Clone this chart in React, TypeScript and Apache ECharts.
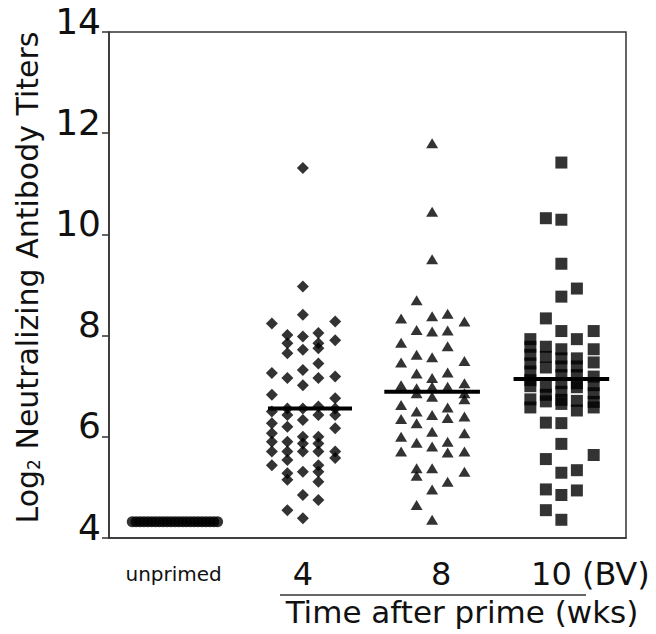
import React, { useEffect, useRef } from "react";
import * as echarts from "echarts";

// Categories and tick labels
const categories = ["unprimed", "4", "8", "10 (BV)"];
const yTicks = { min: 4, max: 14, step: 2 };

// Horizontal offsets of the five point columns inside a group (in category units)
const columnOffsets = [-0.24, -0.12, 0, 0.12, 0.25];

// Unprimed group: all at the detection floor
const unprimedValue = 4.32;
const unprimedOffsets = [
  -0.32, -0.29, -0.26, -0.23, -0.2, -0.17, -0.14, -0.11, -0.08, -0.05, -0.02, 0.01,
  0.04, 0.07, 0.1, 0.13, 0.16, 0.19, 0.22, 0.25, 0.28, 0.31, 0.34,
];

// 4 weeks (diamonds), per column
const wk4Columns = [
  [8.24, 7.26, 6.83, 6.5, 6.27, 6.07, 5.9, 5.71, 5.44],
  [8.01, 7.85, 7.65, 7.16, 6.56, 6.43, 6.2, 5.9, 5.71, 5.54, 5.28, 5.15, 4.55],
  [11.31, 8.97, 8.41, 7.98, 7.72, 7.32, 7.02, 6.56, 6.33, 6.0, 5.87, 5.71, 5.31, 4.85, 4.39],
  [8.05, 7.85, 7.75, 7.45, 7.16, 6.6, 6.43, 6.0, 5.87, 5.71, 5.44, 5.31, 5.11, 4.75],
  [8.28, 7.91, 7.19, 6.76, 6.56, 6.43, 6.17, 5.71, 5.58],
];

// 8 weeks (triangles), per column
const wk8Columns = [
  [8.34, 7.86, 7.47, 7.02, 6.63, 6.35, 6.0, 5.71],
  [8.7, 8.11, 7.62, 7.25, 6.96, 6.86, 6.5, 6.27, 5.88, 5.38, 5.23, 4.65],
  [11.8, 10.45, 9.51, 8.38, 8.08, 7.57, 7.16, 6.99, 6.79, 6.43, 6.1, 5.81, 5.38, 4.96, 4.36],
  [8.43, 8.1, 7.79, 7.27, 6.99, 6.58, 6.37, 5.9, 5.69, 5.11],
  [8.28, 7.5, 7.06, 6.86, 6.74, 6.4, 6.07, 5.71, 5.31],
];

// 10 weeks BV (squares), per column
const wk10Columns = [
  [7.93, 7.78, 7.62, 7.45, 7.29, 7.12, 7.0, 6.74, 6.58],
  [10.32, 8.34, 7.78, 7.58, 7.37, 6.99, 6.83, 6.7, 6.28, 5.56, 4.96, 4.55],
  [11.42, 10.29, 9.42, 8.77, 8.09, 7.73, 7.55, 7.39, 7.22, 7.06, 6.89, 6.73, 6.65, 6.27, 5.86, 5.29, 4.85, 4.36],
  [8.93, 7.93, 7.55, 7.39, 7.22, 7.06, 6.98, 6.71, 6.52, 5.34, 4.94],
  [8.09, 7.73, 7.47, 7.19, 7.02, 6.86, 6.69, 6.58, 5.64],
];

// Group means and the horizontal extent of each mean bar
const groupMeans = [6.56, 6.89, 7.14];
const meanSpans = [
  [-0.27, 0.38],
  [-0.37, 0.37],
  [-0.37, 0.37],
];

const yTitle = "{a|Log}{s|2}{a| Neutralizing Antibody Titers}";
const xTitle = "Time after prime (wks)";

function groupData(cols: number[][], catIndex: number) {
  const out: number[][] = [];
  cols.forEach((col, ci) => {
    col.forEach((v) => out.push([catIndex + columnOffsets[ci], v]));
  });
  return out;
}

export default function App() {
  const ref = useRef<HTMLDivElement>(null);
  useEffect(() => {
    if (!ref.current) return;
    const chart = echarts.init(ref.current, null, { renderer: "svg" });
    const font = "DejaVu Sans";
    const labelKeys = ["u", "d", "d8", "d10"];
    const meanSeries = groupMeans.map((m, i) => ({
      type: "line",
      xAxisIndex: 1,
      symbol: "none",
      z: 5,
      lineStyle: { color: "#000", width: 4 },
      data: [
        [i + 1 + meanSpans[i][0], m],
        [i + 1 + meanSpans[i][1], m],
      ],
    }));
    chart.setOption({
      animation: false,
      backgroundColor: "#fff",
      textStyle: { fontFamily: font },
      grid: {
        left: 109,
        right: 30,
        top: 32,
        bottom: 96,
        show: true,
        borderColor: "#333",
        borderWidth: 1.5,
      },
      xAxis: [
        {
          type: "category",
          data: categories,
          boundaryGap: true,
          axisLine: { show: true, onZero: false, lineStyle: { color: "#333", width: 1.5 } },
          axisTick: { show: false },
          splitLine: { show: false },
          axisLabel: {
            margin: 20,
            interval: 0,
            formatter: (v: string, i: number) => `{${labelKeys[i]}|${v}}`,
            rich: {
              u: { fontFamily: font, fontSize: 20, lineHeight: 32, color: "#111" },
              d: { fontFamily: font, fontSize: 32, lineHeight: 32, color: "#111" },
              d8: { fontFamily: font, fontSize: 32, lineHeight: 32, color: "#111", padding: [0, 0, 0, 18] },
              d10: { fontFamily: font, fontSize: 32, lineHeight: 32, color: "#111", padding: [0, 0, 0, 58] },
            },
          },
        },
        { type: "value", min: -0.5, max: 3.5, show: false },
      ],
      yAxis: {
        type: "value",
        min: yTicks.min,
        max: yTicks.max,
        interval: yTicks.step,
        axisLine: { show: true, onZero: false, lineStyle: { color: "#333", width: 1.5 } },
        axisTick: { show: true, length: 7, lineStyle: { color: "#333", width: 1.5 } },
        splitLine: { show: false },
        axisLabel: {
          fontFamily: font,
          fontSize: 36,
          color: "#111",
          margin: 8,
          verticalAlign: "bottom",
          lineHeight: 22,
        },
        name: yTitle,
        nameLocation: "middle",
        nameGap: 67,
        nameTextStyle: {
          padding: [0, 0, 0, 15],
          rich: {
            a: { fontFamily: font, fontSize: 30, lineHeight: 30, color: "#111" },
            s: { fontFamily: font, fontSize: 17, lineHeight: 12, color: "#111", verticalAlign: "bottom" },
          },
        },
      },
      graphic: [
        {
          type: "line",
          shape: { x1: 280, y1: 595, x2: 586, y2: 595 },
          style: { stroke: "#333", lineWidth: 1.5 },
        },
        {
          type: "text",
          x: 462,
          y: 612,
          style: {
            text: xTitle,
            fontFamily: font,
            fontSize: 31,
            fill: "#111",
            textAlign: "center",
            textVerticalAlign: "middle",
          },
        },
      ],
      series: [
        {
          type: "scatter",
          xAxisIndex: 1,
          symbol: "circle",
          symbolSize: 11,
          itemStyle: { color: "#000" },
          data: unprimedOffsets.map((o) => [o, unprimedValue]),
        },
        {
          type: "scatter",
          xAxisIndex: 1,
          symbol: "diamond",
          symbolSize: 12,
          itemStyle: { color: "#000" },
          data: groupData(wk4Columns, 1),
        },
        {
          type: "scatter",
          xAxisIndex: 1,
          symbol: "triangle",
          symbolSize: [12, 10],
          itemStyle: { color: "#000" },
          data: groupData(wk8Columns, 2),
        },
        {
          type: "scatter",
          xAxisIndex: 1,
          symbol: "rect",
          symbolSize: 12,
          itemStyle: { color: "#000" },
          data: groupData(wk10Columns, 3),
        },
        ...meanSeries,
      ],
    });
    return () => chart.dispose();
  }, []);
  return (
    <div
      ref={ref}
      style={{ position: "fixed", left: 0, top: 0, width: 656, height: 634 }}
    />
  );
}
